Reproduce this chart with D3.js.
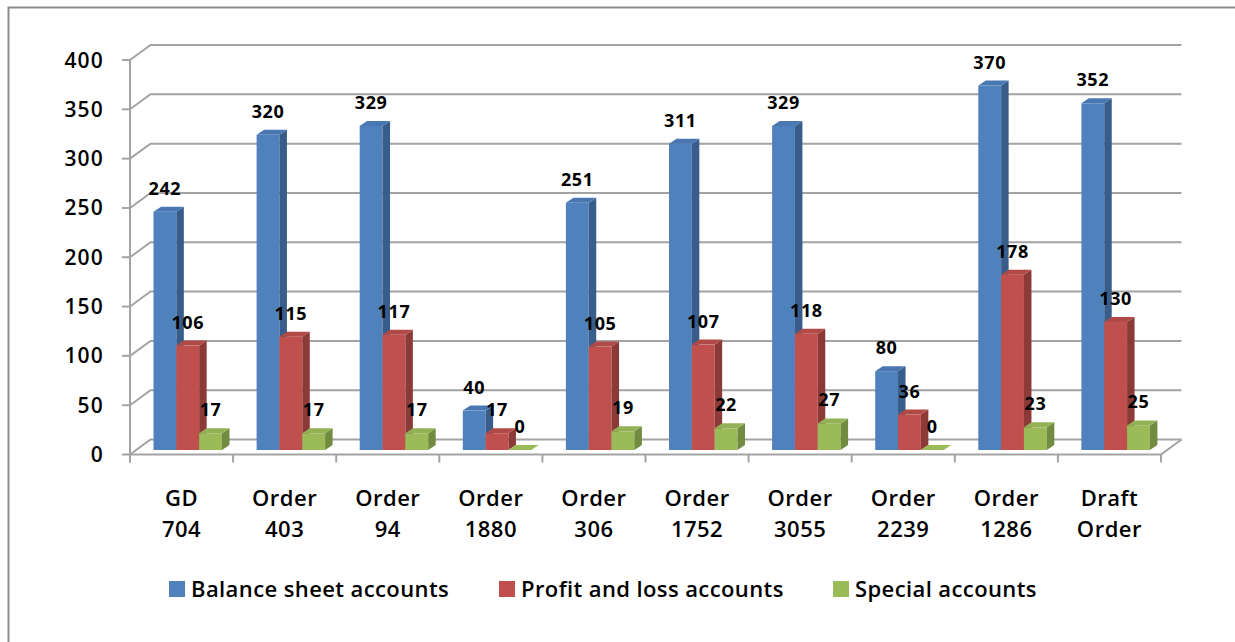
<!DOCTYPE html>
<html>
<head>
<meta charset="utf-8">
<script src="https://cdn.jsdelivr.net/npm/d3@7"></script>
<style>
  body { margin: 0; background: #fff; }
  svg { display: block; font-family: "Open Sans", sans-serif; }
</style>
</head>
<body>
<svg width="1235" height="642"></svg>
<script>
// data
var categories = [["GD", "704"], ["Order", "403"], ["Order", "94"], ["Order", "1880"], ["Order", "306"],
                  ["Order", "1752"], ["Order", "3055"], ["Order", "2239"], ["Order", "1286"], ["Draft", "Order"]];
var seriesNames = ["Balance sheet accounts", "Profit and loss accounts", "Special accounts"];
var balance = [242, 320, 329, 40, 251, 311, 329, 80, 370, 352];
var profitLoss = [106, 115, 117, 17, 105, 107, 118, 36, 178, 130];
var special = [17, 17, 17, 0, 19, 22, 27, 0, 23, 25];
var yTicks = [0, 50, 100, 150, 200, 250, 300, 350, 400];

var series = [balance, profitLoss, special];
var colors = [
  {front: "#4F81BD", side: "#385D8A", top: "#4977B2"},
  {front: "#C0504D", side: "#8C3A38", top: "#B14A47"},
  {front: "#9BBB59", side: "#718B3F", top: "#93B255"}
];

var svg = d3.select("svg");

// outer chart border
svg.append("rect")
  .attr("x", 8.5).attr("y", 7.5)
  .attr("width", 1240).attr("height", 650)
  .attr("fill", "none").attr("stroke", "#8c8c8c").attr("stroke-width", 2);

// 3d geometry: front floor edge, depth offset of the walls
var frontLeft = 130, frontRight = 1161, frontY = 454.5;
var depthX = 20.5, depthY = -15;

var yBack = d3.scaleLinear().domain([0, 400]).range([frontY + depthY, frontY + depthY - 394.5]);
var yFront = function(v) { return yBack(v) - depthY; };

var x = d3.scaleBand()
  .domain(d3.range(categories.length))
  .range([frontLeft, frontRight]);

var xSeries = d3.scaleBand()
  .domain(d3.range(series.length))
  .range([23.5, 92]);

// bars stand on a plane a little behind the front edge
var barBase = 450;
var yBar = d3.scaleLinear().domain([0, 400]).range([barBase, barBase - 394]);
var barDX = 7.5, barDY = -5;

var gridColor = "#a3a3a3";
var grid = svg.append("g").attr("stroke", gridColor).attr("stroke-width", 2).attr("fill", "none");

// back wall gridlines + left wall diagonals
grid.selectAll(".gl").data(yTicks).enter().append("path")
  .attr("d", function(v) {
    return "M" + frontLeft + "," + yFront(v) + "L" + (frontLeft + depthX) + "," + yBack(v) +
           "L" + (frontRight + depthX) + "," + yBack(v);
  });

// floor front edge and right diagonal
grid.append("path")
  .attr("d", "M" + frontLeft + "," + frontY + "L" + frontRight + "," + frontY +
             "L" + (frontRight + depthX) + "," + (frontY + depthY));

// vertical axis
grid.append("line")
  .attr("x1", frontLeft).attr("x2", frontLeft)
  .attr("y1", yFront(400)).attr("y2", frontY + 8);

// y ticks
grid.selectAll(".yt").data(yTicks).enter().append("line")
  .attr("x1", frontLeft - 8).attr("x2", frontLeft)
  .attr("y1", function(v) { return yFront(v); })
  .attr("y2", function(v) { return yFront(v); });

// x ticks at category boundaries
grid.selectAll(".xt").data(d3.range(categories.length + 1)).enter().append("line")
  .attr("x1", function(i) { return frontLeft + i * x.bandwidth(); })
  .attr("x2", function(i) { return frontLeft + i * x.bandwidth(); })
  .attr("y1", frontY).attr("y2", frontY + 8);

// y tick labels
svg.append("g").selectAll("text").data(yTicks).enter().append("text")
  .attr("x", 104)
  .attr("y", function(v) { return yFront(v) + 7.5; })
  .attr("text-anchor", "end")
  .attr("font-size", 21).attr("font-weight", 600)
  .attr("letter-spacing", 1.2)
  .text(function(v) { return v; });

// bars
var bars = svg.append("g");
categories.forEach(function(c, i) {
  series.forEach(function(s, j) {
    var v = s[i];
    var x0 = x(i) + xSeries(j);
    var w = xSeries.bandwidth();
    var yt = yBar(v);
    var col = colors[j];
    var g = bars.append("g");
    g.append("rect")
      .attr("x", x0).attr("y", yt)
      .attr("width", w).attr("height", barBase - yt)
      .attr("fill", col.front);
    g.append("path")
      .attr("d", "M" + (x0 + w) + "," + yt + "L" + (x0 + w + barDX) + "," + (yt + barDY) +
                 "L" + (x0 + w + barDX) + "," + (barBase + barDY) + "L" + (x0 + w) + "," + barBase + "Z")
      .attr("fill", col.side);
    g.append("path")
      .attr("d", "M" + x0 + "," + yt + "L" + (x0 + barDX) + "," + (yt + barDY) +
                 "L" + (x0 + w + barDX) + "," + (yt + barDY) + "L" + (x0 + w) + "," + yt + "Z")
      .attr("fill", v === 0 ? col.front : col.top);
  });
});

// value labels
var labels = svg.append("g")
  .attr("text-anchor", "middle")
  .attr("font-size", 18).attr("font-weight", 700)
  .attr("letter-spacing", 0.6);
categories.forEach(function(c, i) {
  series.forEach(function(s, j) {
    labels.append("text")
      .attr("x", x(i) + xSeries(j) + xSeries.bandwidth() / 2)
      .attr("y", yBar(s[i]) - 17)
      .text(s[i]);
  });
});

// category labels
var cat = svg.append("g")
  .attr("text-anchor", "middle")
  .attr("font-size", 22).attr("font-weight", 600)
  .attr("letter-spacing", 0.5);
cat.selectAll("text").data(categories).enter().append("text")
  .attr("x", function(d, i) { return x(i) + x.bandwidth() / 2; })
  .attr("y", 506)
  .each(function(d) {
    d3.select(this).append("tspan").attr("x", d3.select(this).attr("x")).text(d[0]);
    d3.select(this).append("tspan").attr("x", d3.select(this).attr("x")).attr("dy", 31).text(d[1]);
  });

// legend
var legendX = [169, 499, 833];
var legend = svg.append("g").selectAll("g").data(seriesNames).enter().append("g")
  .attr("transform", function(d, i) { return "translate(" + legendX[i] + ",581)"; });
legend.append("rect")
  .attr("width", 16).attr("height", 16)
  .attr("fill", function(d, i) { return colors[i].front; });
legend.append("text")
  .attr("x", 22).attr("y", 15.5)
  .attr("font-size", 22).attr("font-weight", 600)
  .attr("letter-spacing", 0.4)
  .text(function(d) { return d; });
</script>
</body>
</html>
